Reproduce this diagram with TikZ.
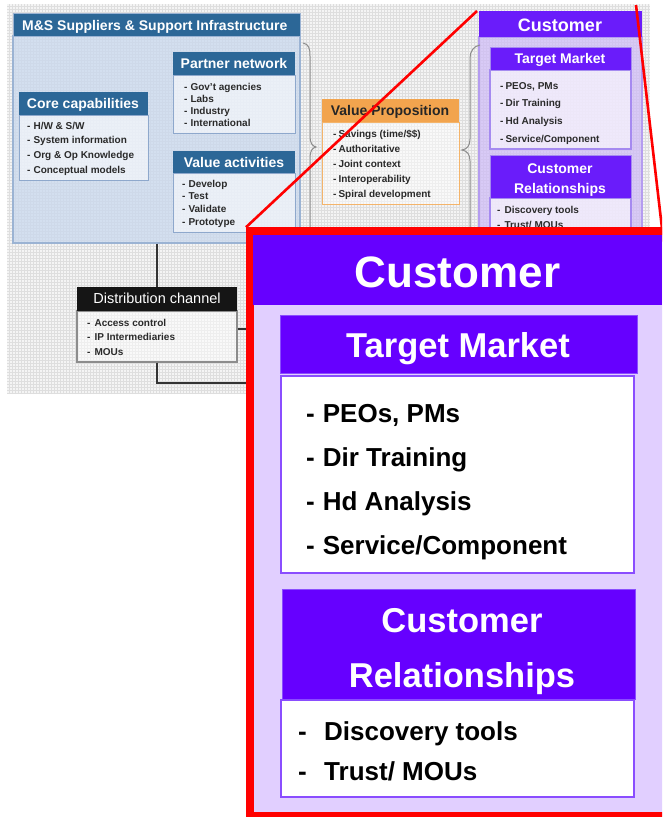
\documentclass[tikz,border=0pt]{standalone}
\usepackage{fontspec}
\setmainfont{Liberation Sans}
\usetikzlibrary{fit}
\definecolor{msblue}{HTML}{2C6797}
\definecolor{msbody}{HTML}{C9D8EE}
\definecolor{msline}{HTML}{9BB3D3}
\definecolor{inline}{HTML}{8EA8CC}
\definecolor{vporange}{HTML}{F2A44E}
\definecolor{vpline}{HTML}{F4B46A}
\definecolor{distblack}{HTML}{151515}
\definecolor{purS}{HTML}{6A1CFA}
\definecolor{purbodyS}{HTML}{CDB9F7}
\definecolor{purlineS}{HTML}{B49CF0}
\definecolor{tmlineS}{HTML}{A58AF0}
\definecolor{purB}{HTML}{6600FF}
\definecolor{lilacB}{HTML}{E1CFFF}
\definecolor{purlineB}{HTML}{8A4DFF}
\definecolor{gridbg}{HTML}{F4F4F4}
\definecolor{gridln}{HTML}{DEDEDE}
\definecolor{itemtxt}{HTML}{2A2A2A}
\definecolor{bracegray}{HTML}{8C8C8C}
\newcommand\tfItem{\fontsize{10}{12}\selectfont\bfseries}
\newcommand\tfHead{\fontsize{14}{16}\selectfont\bfseries}
\newcommand\tfBigItem{\fontsize{26}{30}\selectfont\bfseries}
\newcommand\tfBigHead{\fontsize{34.5}{40}\selectfont\bfseries}
\newcommand\tfHuge{\fontsize{44}{50}\selectfont\bfseries}
\begin{document}
\begin{tikzpicture}[x=1pt,y=-1pt,
  boxn/.style={rectangle,inner sep=0pt},
  item/.style={anchor=base west,inner sep=0pt,font=\tfItem,text=itemtxt},
  htext/.style={anchor=base,inner sep=0pt,font=\tfHead,text=white},
  bigitem/.style={anchor=base west,inner sep=0pt,font=\tfBigItem,text=black},
  bighead/.style={anchor=base,inner sep=0pt,font=\tfBigHead,text=white},
  conn/.style={draw=black!80,line width=1.3pt},
  redln/.style={draw=red,line width=2.6pt},
  bracel/.style={draw=bracegray,line width=1pt}]
\useasboundingbox (0,0) rectangle (662,817);
\clip (0,0) rectangle (662,817);
\fill[white] (0,0) rectangle (662,817);
% grid background
\fill[gridbg] (7,4) rectangle (650,394);
\draw[gridln,line width=0.6pt,step=3pt] (7,4) grid (650,394);

% ---------- M&S Suppliers ----------
\node[boxn,fit={(13,36) (300,243)},fill=msbody,fill opacity=0.75,draw=msline,line width=1.2pt] (msbody) {};
\node[boxn,fit={(13,13) (300,36)},fill=msblue,draw=msline,line width=0.8pt] (mshead) {};
\node[anchor=base west,inner sep=0pt,font=\tfHead,text=white] (mst) at (22,30) {M\&S Suppliers \& Support Infrastructure};

% Partner network
\node[boxn,fit={(173,75) (295,133)},fill=white,fill opacity=0.55,draw=inline,line width=1pt] (pnbody) {};
\node[boxn,fit={(173,52) (295,75)},fill=msblue] (pnhead) {};
\node[htext] (pnt) at (234,68) {Partner network};
\foreach \t [count=\i] in {Gov't agencies,Labs,Industry,International}
  \node[item] (pn\i) at (184,{90+(\i-1)*12.3}) {-\hspace{3pt}\t};

% Core capabilities
\node[boxn,fit={(19,115) (148,180)},fill=white,fill opacity=0.55,draw=inline,line width=1pt] (ccbody) {};
\node[boxn,fit={(19,92) (148,115)},fill=msblue] (cchead) {};
\node[htext] (cct) at (83,108) {Core capabilities};
\foreach \t [count=\i] in {H/W \& S/W,System information,Org \& Op Knowledge,Conceptual models}
  \node[item] (cc\i) at (27,{129+(\i-1)*14.7}) {-\hspace{3pt}\t};

% Value activities
\node[boxn,fit={(173,173) (295,232)},fill=white,fill opacity=0.55,draw=inline,line width=1pt] (vabody) {};
\node[boxn,fit={(173,151) (295,173)},fill=msblue] (vahead) {};
\node[htext] (vat) at (234,167) {Value activities};
\foreach \t [count=\i] in {Develop,Test,Validate,Prototype}
  \node[item] (va\i) at (182,{187+(\i-1)*12.7}) {-\hspace{3pt}\t};

% ---------- Value Proposition ----------
\node[boxn,fit={(322,122) (459,204)},fill=white,fill opacity=0.5,draw=vpline,line width=1pt] (vpbody) {};
\node[boxn,fit={(322,99) (459,122)},fill=vporange] (vphead) {};
\node[htext,text=black!85] (vpt) at (390,115) {Value Proposition};
\foreach \t [count=\i] in {Savings (time/\$\$),Authoritative,Joint context,Interoperability,Spiral development}
  \node[item] (vp\i) at (333,{137+(\i-1)*15}) {-\hspace{2pt}\t};

% ---------- small Customer ----------
\node[boxn,fit={(479,37) (642,258)},fill=purbodyS,fill opacity=0.7,draw=purlineS,line width=2.5pt] (csbody) {};
\node[boxn,fit={(479,11) (642,37)},fill=purS] (cshead) {};
\node[htext,font=\fontsize{18}{20}\selectfont\bfseries] (cst) at (560,31) {Customer};
\node[boxn,fit={(490,70) (631,149)},fill=white,fill opacity=0.6,draw=tmlineS,line width=1.2pt] (tmsbody) {};
\node[boxn,fit={(490,47) (631,70)},fill=purS,draw=tmlineS,line width=0.8pt] (tmshead) {};
\node[htext] (tmst) at (560,63) {Target Market};
\foreach \t [count=\i] in {{PEOs, PMs},Dir Training,Hd Analysis,Service/Component}
  \node[item] (tms\i) at (500,{89+(\i-1)*17.7}) {-\hspace{2pt}\t};
\node[boxn,fit={(490,198) (631,258)},fill=white,fill opacity=0.6,draw=tmlineS,line width=1.2pt] (crsbody) {};
\node[boxn,fit={(490,155) (631,198)},fill=purS,draw=tmlineS,line width=0.8pt] (crshead) {};
\node[htext] (crst1) at (560,173) {Customer};
\node[htext] (crst2) at (560,193) {Relationships};
\node[item] (crs1) at (497,213) {-\hspace{4pt}Discovery tools};
\node[item] (crs2) at (497,228) {-\hspace{4pt}Trust/ MOUs};

% ---------- braces ----------
\draw[bracel] (303,43) .. controls (309,44) and (310,49) .. (310,56) -- (310,136)
  .. controls (310,143) and (312,146) .. (316,147) .. controls (312,148) and (310,151) .. (310,158)
  -- (310,238) .. controls (310,245) and (309,250) .. (303,251);
\draw[bracel] (480,45) .. controls (474,46) and (470,51) .. (470,58) -- (470,139)
  .. controls (470,146) and (467,149) .. (462,150) .. controls (467,151) and (470,154) .. (470,161)
  -- (470,242) .. controls (470,249) and (474,254) .. (480,255);

% ---------- Distribution channel ----------
\node[boxn,fit={(77,311) (237,362)},fill=white,fill opacity=0.5,draw=black!45,line width=1.2pt] (dcbody) {};
\node[boxn,fit={(77,287) (237,311)},fill=distblack] (dchead) {};
\node[anchor=base,inner sep=0pt,font=\fontsize{14.5}{16}\selectfont,text=white] (dct) at (157,303) {Distribution channel};
\foreach \t [count=\i] in {Access control,IP Intermediaries,MOUs}
  \node[item] (dc\i) at (87,{326+(\i-1)*14.5}) {-\hspace{4pt}\t};

% connectors
\coordinate (dcR) at (270,329);
\coordinate (dcB) at (270,383);
\draw[conn] (msbody.south -| dchead.north) -- (dchead.north);
\draw[conn] (dcbody.east |- dcR) -- (dcR);
\draw[conn] (dcbody.south) -- (dcbody.south |- dcB) -- (dcB);

% ---------- red zoom lines ----------
\coordinate (zA) at (477,11);
\coordinate (zB) at (636,5);
\coordinate (zBend) at (665,254);

% ---------- big Customer ----------
\node[boxn,fit={(249.75,231) (680,815.75)},fill=lilacB,draw=red,line width=7.5pt] (big) {};
\draw[redln] (zA) -- (big.north west);
\draw[redln] (zB) -- (zBend);
\fill[purB] (253,235) rectangle (662,305);
\node[anchor=base,inner sep=0pt,font=\tfHuge,text=white] (bigt) at (457.5,287) {Customer};

\node[boxn,fit={(280,315) (637,373)},fill=purB,draw=purlineB,line width=1pt] (tmhead) {};
\node[bighead] (tmt) at (458,357) {Target Market};
\node[boxn,fit={(281,376) (634,573)},fill=white,draw=purlineB,line width=2pt] (tmbody) {};
\foreach \t [count=\i] in {{PEOs, PMs},Dir Training,Hd Analysis,Service/Component}
  \node[bigitem] (tm\i) at (306,{422+(\i-1)*44.3}) {-\hspace{8pt}\t};

\node[boxn,fit={(282,589) (635,699)},fill=purB,draw=purlineB,line width=1pt] (crhead) {};
\node[bighead] (crt1) at (462,632) {Customer};
\node[bighead] (crt2) at (462,687) {Relationships};
\node[boxn,fit={(281,700) (634,797)},fill=white,draw=purlineB,line width=2pt] (crbody) {};
\node[bigitem] (cr1) at (298,740) {\makebox[26pt][l]{-}Discovery tools};
\node[bigitem] (cr2) at (298,780) {\makebox[26pt][l]{-}Trust/ MOUs};
\end{tikzpicture}
\end{document}
